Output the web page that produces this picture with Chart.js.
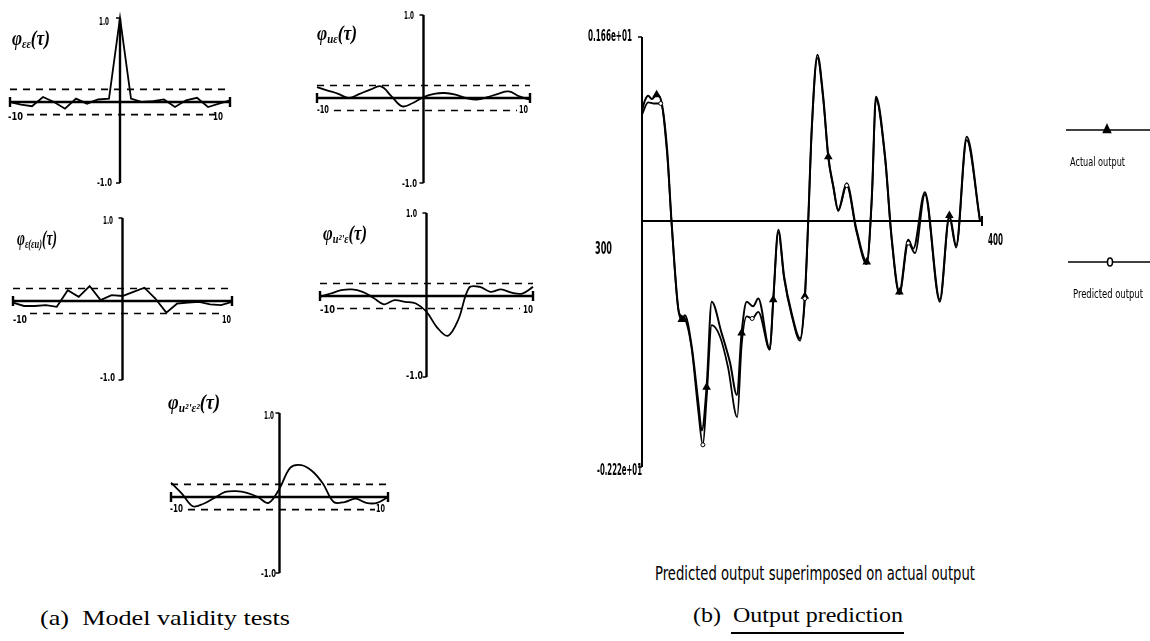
<!DOCTYPE html>
<html><head><meta charset="utf-8">
<script src="https://cdn.jsdelivr.net/npm/chart.js@4.4.1/dist/chart.umd.min.js"></script>
<style>
html,body{margin:0;padding:0;background:#fff;}
#root{position:relative;width:1150px;height:641px;overflow:hidden;background:#fff;}
canvas{position:absolute;}
.t{position:absolute;white-space:nowrap;color:#000;transform-origin:0 50%;}
.t sub{font-size:62%;vertical-align:-0.25em;line-height:0;}
</style></head><body><div id="root"></div>
<script>
// ---------------- DATA ----------------
const lags = [-10,-9,-8,-7,-6,-5,-4,-3,-2,-1,0,1,2,3,4,5,6,7,8,9,10];
const phiEE   = [0.00,-0.03,-0.05,0.06,0.00,-0.08,0.04,-0.02,0.03,0.04,1.00,0.04,0.00,0.01,0.03,-0.06,0.02,0.05,-0.06,-0.02,0.02];
const phiUE   = [0.13,0.09,0.05,0.00,0.05,0.10,0.14,0.02,-0.10,-0.06,0.01,0.05,0.06,0.04,0.00,-0.02,0.01,0.05,0.08,0.02,-0.02];
const phiEEU  = [-0.02,-0.06,-0.06,-0.05,-0.07,0.13,0.05,0.18,0.01,0.07,0.06,0.11,0.16,0.03,-0.14,-0.03,-0.02,-0.01,-0.04,-0.05,-0.01];
const phiU2E  = [-0.01,0.03,0.07,0.08,0.05,-0.02,-0.10,-0.05,-0.07,-0.09,-0.19,-0.38,-0.48,-0.28,0.10,0.11,0.05,0.08,0.04,0.03,0.11];
const phiU2E2 = [0.17,0.04,-0.11,-0.08,-0.01,0.06,0.07,0.05,0.00,-0.07,0.10,0.35,0.38,0.31,0.16,-0.06,-0.06,-0.02,-0.07,-0.07,0.00];
const confBand = 0.15;
const corrTickLabels = ["1.0","-1.0","-10","10"];

const sampleRange = [300, 400];
const outputRange = [-2.22, 1.66];
const outputTickLabels = ["0.166e+01","-0.222e+01","300","400"];
const actualT = [300,300.9,301.8,302.9,304.3,305.5,307.4,308.7,310.7,311.7,312.6,314.6,316.5,317.6,319.0,320.5,323.4,325.9,327.9,329.3,330.8,332.7,334.2,337.6,338.6,340.1,341.8,344.0,346.5,347.9,348.9,349.9,351.6,353.3,354.8,356.3,357.7,360.2,363.1,366.1,367.6,368.8,371.5,373.4,375.7,378.3,379.8,383.2,387.6,390.4,392.4,395.5,399.4];
const actualY = [1.00,1.09,1.13,1.10,1.14,1.10,0.64,-0.01,-0.80,-0.89,-0.85,-1.13,-1.62,-1.89,-1.50,-0.73,-1.01,-1.28,-1.57,-1.01,-0.73,-0.77,-0.70,-1.16,-0.71,-0.08,-0.50,-0.83,-1.06,-0.68,0.01,0.82,1.50,1.12,0.58,0.31,0.10,0.34,-0.08,-0.37,0.22,1.12,0.58,-0.14,-0.64,-0.17,-0.25,0.26,-0.71,0.05,-0.22,0.76,0.01];
const predT = [300,301.8,303.5,305.5,307.4,308.7,310.7,311.7,312.6,314.6,316.5,317.9,319.0,320.5,322.9,325.3,328.0,329.3,330.8,332.4,334.2,337.6,338.6,340.1,341.8,344.0,346.5,347.9,348.9,349.9,351.6,353.3,354.8,356.3,357.7,360.2,363.1,366.1,367.6,368.8,371.5,373.4,375.7,378.3,380.3,383.2,387.6,390.4,392.4,395.5,399.4];
const predY = [0.96,1.07,1.06,1.06,0.60,-0.02,-0.80,-0.86,-0.88,-1.15,-1.70,-2.02,-1.60,-0.94,-1.04,-1.32,-1.77,-1.12,-0.86,-0.88,-0.82,-1.16,-0.72,-0.10,-0.52,-0.85,-1.08,-0.70,0.00,0.80,1.47,1.10,0.57,0.30,0.09,0.32,-0.10,-0.39,0.20,1.10,0.56,-0.16,-0.66,-0.20,-0.29,0.24,-0.73,0.03,-0.24,0.73,0.00];
const seriesNames = ["Actual output","Predicted output"];

// ---------------- LAYOUT ----------------
const root = document.getElementById('root');
const NARROW = "'Liberation Sans Narrow','DejaVu Sans Condensed','Liberation Sans',sans-serif";
const SERIF = "'Liberation Serif','DejaVu Serif',serif";

function txt(html, x, cy, w, size, family, weight, style){
  const d = document.createElement('div');
  d.className = 't'; d.innerHTML = html;
  d.style.fontFamily = family; d.style.fontSize = size+'px';
  d.style.fontWeight = weight||'normal'; d.style.fontStyle = style||'normal';
  d.style.lineHeight = size+'px';
  d.style.top = (cy - size/2) + 'px'; d.style.left = x + 'px';
  root.appendChild(d);
  const r = d.getBoundingClientRect().width;
  if (w && r > 0) d.style.transform = 'scaleX(' + (w / r) + ')';
  return d;
}

const crossAxes = {
  id: 'crossAxes',
  beforeDatasetsDraw(chart, args, opts){
    const {ctx, scales:{x, y}} = chart;
    const x0 = x.getPixelForValue(opts.xZero), y0 = y.getPixelForValue(0);
    const L = x.getPixelForValue(x.min), R = x.getPixelForValue(x.max);
    const T = y.getPixelForValue(y.max), B = y.getPixelForValue(y.min);
    ctx.save();
    ctx.strokeStyle = '#000'; ctx.lineCap = 'butt';
    ctx.lineWidth = opts.axisWidth;
    ctx.beginPath(); ctx.moveTo(opts.hLeftFromAxis ? x0 : L, y0); ctx.lineTo(R, y0); ctx.stroke();
    ctx.beginPath();
    if (!opts.hLeftFromAxis){ ctx.moveTo(L, y0-5); ctx.lineTo(L, y0+5); }
    ctx.moveTo(R, y0-5); ctx.lineTo(R, y0+5); ctx.stroke();
    ctx.beginPath(); ctx.moveTo(x0, T); ctx.lineTo(x0, B); ctx.stroke();
    ctx.lineWidth = 1.5;
    ctx.beginPath(); ctx.moveTo(x0-4, T); ctx.lineTo(x0, T); ctx.moveTo(x0-4, B); ctx.lineTo(x0, B); ctx.stroke();
    if (opts.band){
      ctx.lineWidth = 1.6; ctx.setLineDash([7,6]);
      const yu = y.getPixelForValue(opts.band), yl = y.getPixelForValue(-opts.band);
      ctx.beginPath(); ctx.moveTo(L, yu); ctx.lineTo(R, yu); ctx.stroke();
      ctx.beginPath(); ctx.moveTo(L+17, yl); ctx.lineTo(R-13, yl); ctx.stroke();
    }
    ctx.restore();
  },
  afterDraw(chart, args, opts){
    if (!opts.legend) return;
    const ctx = chart.ctx;
    ctx.save();
    opts.legend.forEach(it => {
      ctx.strokeStyle = '#000'; ctx.lineWidth = 1.6;
      ctx.beginPath(); ctx.moveTo(it.x1, it.y); ctx.lineTo(it.x2, it.y); ctx.stroke();
      ctx.fillStyle = it.fill;
      ctx.beginPath();
      if (it.style === 'triangle'){
        ctx.moveTo(it.m, it.y-5); ctx.lineTo(it.m+3.5, it.y+2.5); ctx.lineTo(it.m-3.5, it.y+2.5); ctx.closePath();
      } else {
        ctx.ellipse(it.m, it.y, 2.5, 4, 0, 0, Math.PI*2);
      }
      ctx.fill(); ctx.stroke();
    });
    ctx.restore();
  }
};

function makeCanvas(left, top, w, h){
  const c = document.createElement('canvas');
  c.width = w; c.height = h;
  c.style.left = left+'px'; c.style.top = top+'px';
  c.style.width = w+'px'; c.style.height = h+'px';
  root.appendChild(c);
  return c;
}

// small correlation panels: plot box [xl, xr, yTop(=+1), yZero, yBottom]
const panels = [
  {vals: phiEE,   box:[10,230,18,102,183],  tension:0,    label:"φ<sub>εε</sub>(τ)",      lab:[12,38,38],
   ticks:[[99,21,10],[97,182,15],[8,116,15],[213,116,10]]},
  {vals: phiUE,   box:[317,530,15,98,183],  tension:0.4,  label:"φ<sub>uε</sub>(τ)",      lab:[317,33,40],
   ticks:[[404,15,10],[402,183,15],[317,109,12],[519,109,9]]},
  {vals: phiEEU,  box:[13,232,218,301,380], tension:0,    label:"φ<sub>ε(εu)</sub>(τ)",   lab:[17,238,40],
   ticks:[[103,220,10],[100,377,15],[13,319,14],[222,319,9]]},
  {vals: phiU2E,  box:[320,533,213,296,377],tension:0.35, label:"φ<sub>u²'ε</sub>(τ)",    lab:[323,233,44],
   ticks:[[406,213,11],[406,375,17],[320,309,15],[523,309,10]]},
  {vals: phiU2E2, box:[171,388,413,497,573],tension:0.35, label:"φ<sub>u²'ε²</sub>(τ)",   lab:[168,402,52],
   ticks:[[264,415,10],[261,573,15],[170,508,13],[376,508,9]]},
];

panels.forEach(p => {
  const [xl, xr, yt, y0, yb] = p.box;
  const pad = 12;
  const c = makeCanvas(xl-pad, yt-pad, xr-xl+2*pad, yb-yt+2*pad);
  const ymin = -(yb-y0)/(y0-yt);
  new Chart(c, {
    type: 'line',
    data: { datasets: [{ data: lags.map((l,i)=>({x:l, y:p.vals[i]})), borderColor:'#000', borderWidth:1.8,
      pointRadius:0, tension:p.tension, fill:false, clip:false }]},
    options: {
      responsive:false, animation:false, devicePixelRatio:1,
      layout:{padding:pad}, events:[],
      plugins:{ legend:{display:false}, tooltip:{enabled:false},
        crossAxes:{ xZero:0, band:confBand, axisWidth:2.4 } },
      scales:{ x:{type:'linear', min:lags[0], max:lags[lags.length-1], display:false},
               y:{min:ymin, max:1, display:false} }
    },
    plugins:[crossAxes]
  });
  txt(p.label, p.lab[0], p.lab[1], p.lab[2], 20, SERIF, 'bold', 'italic');
  p.ticks.forEach((t,i) => txt(corrTickLabels[i], t[0], t[1], t[2], 11, NARROW, 'bold'));
});

// output prediction panel
(function(){
  const left = 560, top = 0, w = 590, h = 500;
  const c = makeCanvas(left, top, w, h);
  const plot = {l:642, r:982, t:37, b:467};
  const mk = (T, Y) => T.map((t,i)=>({x:t, y:Y[i]}));
  new Chart(c, {
    type:'line',
    data:{ datasets:[
      { label: seriesNames[1], data: mk(predT, predY), borderColor:'#000', borderWidth:1.8,
        cubicInterpolationMode:'monotone', fill:false, clip:false, pointStyle:'circle',
        pointBackgroundColor:'#fff', pointBorderColor:'#000', pointBorderWidth:1,
        pointRadius: ctx => (ctx.dataIndex % 8 === 3 ? 2 : 0) },
      { label: seriesNames[0], data: mk(actualT, actualY), borderColor:'#000', borderWidth:2.0,
        cubicInterpolationMode:'monotone', fill:false, clip:false, pointStyle:'triangle',
        pointBackgroundColor:'#000', pointBorderColor:'#000',
        pointRadius: ctx => (ctx.dataIndex % 5 === 4 ? 3 : 0) }
    ]},
    options:{
      responsive:false, animation:false, devicePixelRatio:1, events:[],
      layout:{padding:{left:plot.l-left, right:left+w-plot.r, top:plot.t-top, bottom:top+h-plot.b}},
      plugins:{ legend:{display:false}, tooltip:{enabled:false},
        crossAxes:{ xZero:sampleRange[0], band:0, axisWidth:2, hLeftFromAxis:true,
          legend:[ {x1:1066-left, x2:1150-left, y:130, m:1107-left, style:'triangle', fill:'#000'},
                   {x1:1068-left, x2:1150-left, y:262, m:1110-left, style:'circle', fill:'#fff'} ] } },
      scales:{ x:{type:'linear', min:sampleRange[0], max:sampleRange[1], display:false},
               y:{min:outputRange[0], max:outputRange[1], display:false} }
    },
    plugins:[crossAxes]
  });
  txt(outputTickLabels[0], 588, 36, 44, 16, NARROW, 'bold');
  txt(outputTickLabels[1], 597, 470, 45, 15, NARROW, 'bold');
  txt(outputTickLabels[2], 595, 248, 17, 18, NARROW, 'bold');
  txt(outputTickLabels[3], 988, 240, 15, 16, NARROW, 'bold');
  txt(seriesNames[0], 1070, 161, 55, 13, NARROW, 'normal');
  txt(seriesNames[1], 1073, 293, 70, 13, NARROW, 'normal');
  txt("Predicted output superimposed on actual output", 655, 573, 320, 19, NARROW, 'normal');
})();

txt("(a)&nbsp;&nbsp;Model validity tests", 40, 618, 250, 22, SERIF, 'normal');
txt("(b)&nbsp;&nbsp;Output prediction", 693, 615, 210, 22, SERIF, 'normal');
const ul = document.createElement('div');
ul.style.cssText = 'position:absolute;left:731px;top:632px;width:173px;height:2px;background:#000;';
root.appendChild(ul);
</script>
</body></html>
